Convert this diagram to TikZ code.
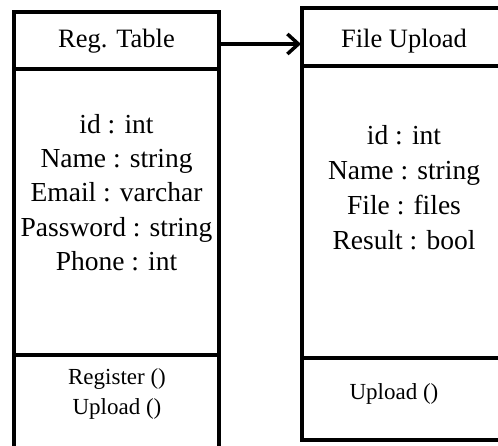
\documentclass[tikz,border=0pt]{standalone}
\usepackage{fontspec}
\setmainfont{Liberation Serif}
\usepackage{tikz}
\usetikzlibrary{calc}
\usetikzlibrary{arrows.meta}

\begin{document}
\begin{tikzpicture}[x=1pt,y=-1pt,
    box/.style={line width=4pt},
    txt/.style={text height=0.7em, text depth=0.2em, inner sep=0pt},
    title/.style={txt, font=\fontsize{26.5}{30}\selectfont},
    attr/.style={txt, font=\fontsize{27.5}{30}\selectfont},
    meth/.style={txt, font=\fontsize{23}{26}\selectfont},
    link/.style={line width=3.5pt,-{Straight Barb[length=11pt,width=20pt]}}]
    \useasboundingbox (0,0) rectangle (498,445);
    \clip (0,0) rectangle (498,445);
    %KOORDINAT
    \coordinate (A) at (14,12);
    \coordinate (B) at (219,460);
    \coordinate (C) at (302,8);
    \coordinate (D) at (510,440);
    %KOTAK KIRI
    \draw[box] (A) rectangle (B);
    \draw[box] (14,69) -- (219,69);
    \draw[box] (14,355) -- (219,355);
    %KOTAK KANAN
    \draw[box] (C) rectangle (D);
    \draw[box] (302,66) -- (510,66);
    \draw[box] (302,358) -- (510,358);
    %JUDUL
    \node[title] (regtitle) at (116.5,45) {Reg. Table};
    \node[title] (uptitle) at (404,45) {File Upload};
    %ATRIBUT
    \node[attr] (regid) at (116.5,131) {id : int};
    \node[attr] (regname) at (116.5,165) {Name : string};
    \node[attr] (regmail) at (116.5,199) {Email : varchar};
    \node[attr] (regpass) at (116.5,233.5) {Password : string};
    \node[attr] (regphone) at (116.5,268) {Phone : int};
    \node[attr] (upid) at (404,142) {id : int};
    \node[attr] (upname) at (404,177) {Name : string};
    \node[attr] (upfile) at (404,212) {File : files};
    \node[attr] (upresult) at (404,247) {Result : bool};
    %METODE
    \node[meth] (regreg) at (117,382) {Register ()};
    \node[meth] (regupl) at (117,412) {Upload ()};
    \node[meth] (upupl) at (394,397) {Upload ()};
    %PANAH
    \draw[link] ($(regtitle -| B)+(0,-1)$) -- ($(uptitle -| C)+(-1,-1)$);
\end{tikzpicture}
\end{document}
